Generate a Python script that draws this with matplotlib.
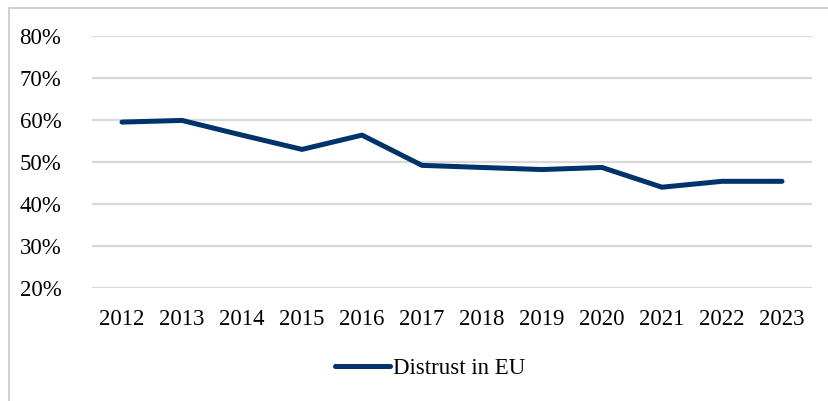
import matplotlib.pyplot as plt
from matplotlib.patches import Rectangle
from matplotlib.ticker import PercentFormatter

years = ['2012', '2013', '2014', '2015', '2016', '2017',
         '2018', '2019', '2020', '2021', '2022', '2023']
distrust = [0.595, 0.599, 0.564, 0.530, 0.564, 0.492,
            0.487, 0.482, 0.487, 0.440, 0.454, 0.454]

plt.rcParams['font.family'] = ['Liberation Serif', 'DejaVu Serif']

fig = plt.figure(figsize=(8.29, 4.01), dpi=100)
W, H = 829, 401

# light frame around the whole chart area
fig.patches.append(Rectangle((9.5 / W, -0.1), 1.2, 1 - 7.5 / H + 0.1,
                             transform=fig.transFigure, fill=False,
                             edgecolor='#c8c8c8', linewidth=1.2))

ax = fig.add_axes([92 / W, 1 - 288 / H, 720 / W, 252 / H])
x = range(len(years))
ax.plot(x, distrust, color='#00336a', linewidth=3.6, solid_capstyle='round',
        solid_joinstyle='round', label='Distrust in EU', zorder=3)

ax.set_xlim(-0.5, len(years) - 0.5)
ax.set_ylim(0.2, 0.8)
ax.set_yticks([0.2, 0.3, 0.4, 0.5, 0.6, 0.7, 0.8])
ax.yaxis.set_major_formatter(PercentFormatter(1.0, decimals=0))
ax.set_xticks(list(x))
ax.set_xticklabels(years)
ax.grid(axis='y', color='#d9d9d9', linewidth=1.6)
ax.set_axisbelow(True)
for s in ax.spines.values():
    s.set_visible(False)
ax.tick_params(axis='both', length=0, labelsize=16.5, colors='black')
ax.tick_params(axis='x', pad=15)
ax.tick_params(axis='y', pad=22)

fig.legend(loc='center', bbox_to_anchor=(430 / W, 1 - 368 / H), frameon=False,
           fontsize=16.5, handlelength=2.4, handletextpad=0.15)

fig.savefig('out.png', dpi=100)
